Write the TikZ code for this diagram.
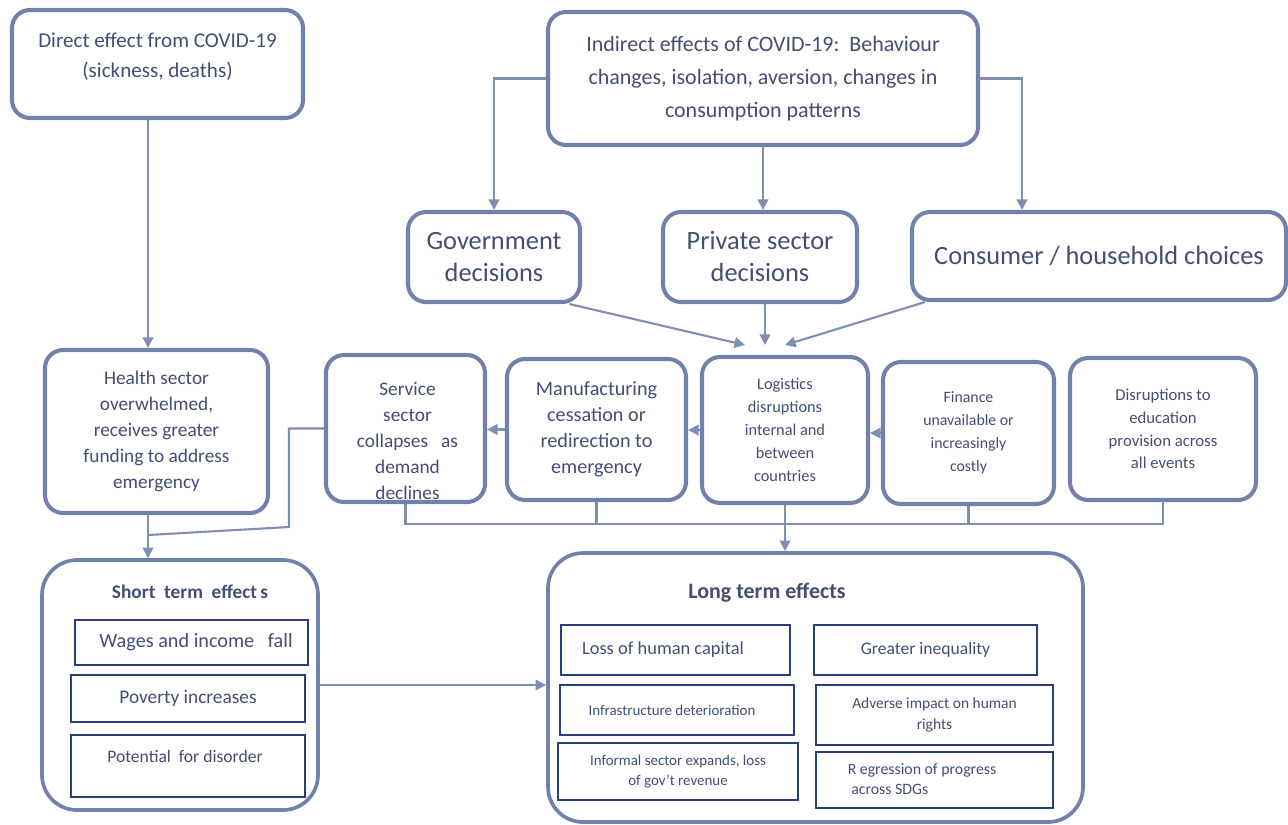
\documentclass[tikz,border=0pt]{standalone}
\usepackage{fontspec}
\setmainfont{Carlito}
\usepackage{tikz}
\usetikzlibrary{positioning,arrows.meta}
\definecolor{boxline}{RGB}{112,130,172}
\definecolor{conline}{RGB}{128,142,178}
\definecolor{innline}{RGB}{44,60,124}
\definecolor{txt}{RGB}{66,78,116}

\begin{document}
\begin{tikzpicture}[
  box/.style={draw=boxline, line width=2.3pt, rounded corners=0.36cm, align=center, text=txt, inner sep=2pt},
  bigbox/.style={draw=boxline, line width=2.1pt, rounded corners=0.7cm},
  itembox/.style={draw=innline, line width=1.3pt, align=center, text=txt, inner sep=1pt},
  lbl/.style={text=txt, align=center, inner sep=0pt},
  conn/.style={draw=conline, line width=1.2pt},
  arr/.style={conn, -{Triangle[length=6pt,width=6pt]}}
]
\useasboundingbox (0,0) rectangle (25.76,-16.48);

% top row
\node[box, minimum width=5.82cm, minimum height=2.16cm] (direct) at (3.15,-1.28) {};
\node[lbl, font=\fontsize{12}{17}\selectfont] (directtxt) at (3.15,-1.14) {Direct effect from COVID-19\\(sickness, deaths)};
\node[box, minimum width=8.6cm, minimum height=2.66cm, font=\fontsize{12.5}{18.8}\selectfont] (indirect) at (15.26,-1.57)
  {Indirect effects of COVID-19:\ \ Behaviour\\changes, isolation, aversion, changes in\\consumption patterns};

% decisions
\node[box, minimum width=3.44cm, minimum height=1.8cm, font=\fontsize{15}{18.2}\selectfont] (gov) at (9.88,-5.14) {Government\\decisions};
\node[box, minimum width=3.88cm, minimum height=1.8cm, font=\fontsize{15}{18.2}\selectfont] (priv) at (15.20,-5.14) {Private sector\\decisions};
\node[box, minimum width=7.48cm, minimum height=1.76cm, font=\fontsize{15}{18.2}\selectfont] (cons) at (21.98,-5.12) {Consumer / household choices};

% sectors
\node[box, minimum width=4.46cm, minimum height=3.26cm, font=\fontsize{11}{14.8}\selectfont] (health) at (3.13,-8.63)
  {Health sector\\overwhelmed,\\receives greater\\funding to address\\emergency};
\node[box, minimum width=3.18cm, minimum height=2.94cm] (service) at (8.11,-8.57) {};
\node[lbl, font=\fontsize{11}{14.8}\selectfont] (servicetxt) at (8.15,-8.82) {Service\\sector\\collapses\ \ \ as\\demand\\declines};
\node[box, minimum width=3.58cm, minimum height=2.82cm, font=\fontsize{11.5}{14.8}\selectfont] (manuf) at (11.93,-8.59)
  {Manufacturing\\cessation or\\redirection to\\emergency};
\node[box, minimum width=3.32cm, minimum height=2.92cm, font=\fontsize{9.3}{13}\selectfont] (logist) at (15.70,-8.60)
  {Logistics\\disruptions\\internal and\\between\\countries};
\node[box, minimum width=3.42cm, minimum height=2.84cm, font=\fontsize{9}{13}\selectfont] (finance) at (19.37,-8.66)
  {Finance\\unavailable or\\increasingly\\costly};
\node[box, minimum width=3.72cm, minimum height=2.84cm, font=\fontsize{9.5}{13}\selectfont] (educ) at (23.26,-8.58)
  {Disruptions to\\education\\provision across\\all events};

% short term
\node[bigbox, minimum width=5.52cm, minimum height=5.0cm] (short) at (3.60,-13.70) {};
\node[lbl, font=\fontsize{11}{13}\selectfont\bfseries] (shorttitle) at (3.80,-11.84) {Short\ \ term\ \ effect\,s};
\node[itembox, minimum width=4.66cm, minimum height=0.9cm, font=\fontsize{11.5}{14}\selectfont] (wages) at (3.83,-12.85) {\ \ Wages and income\ \ \ fall};
\node[itembox, minimum width=4.68cm, minimum height=0.94cm, font=\fontsize{11}{14}\selectfont] (poverty) at (3.76,-13.97) {Poverty increases};
\node[itembox, minimum width=4.68cm, minimum height=1.24cm] (potential) at (3.76,-15.32) {};
\node[lbl, font=\fontsize{10}{12}\selectfont] (potentialtxt) at (3.70,-15.12) {Potential\ \ for disorder};

% long term
\node[bigbox, minimum width=10.7cm, minimum height=5.38cm] (long) at (16.31,-13.75) {};
\node[lbl, font=\fontsize{12.5}{15}\selectfont\bfseries] (longtitle) at (15.34,-11.86) {Long term effects};
\node[itembox, minimum width=4.58cm, minimum height=1.0cm, font=\fontsize{10.5}{13}\selectfont] (loss) at (13.51,-13.00) {Loss\ of human capital\hspace*{0.5cm}};
\node[itembox, minimum width=4.46cm, minimum height=1.0cm, font=\fontsize{10}{13}\selectfont] (greater) at (18.51,-13.00) {Greater\ inequality};
\node[itembox, minimum width=4.68cm, minimum height=1.0cm, font=\fontsize{8.5}{11}\selectfont] (infra) at (13.54,-14.20) {Infrastructure\ deterioration\hspace*{0.2cm}};
\node[itembox, minimum width=4.74cm, minimum height=1.2cm, font=\fontsize{8.8}{11.9}\selectfont] (adverse) at (18.69,-14.30) {Adverse impact on human\\rights};
\node[itembox, minimum width=4.8cm, minimum height=1.14cm, font=\fontsize{8.5}{11.4}\selectfont] (informal) at (13.56,-15.43) {Informal\ sector expands, loss\\of gov't revenue};
\node[itembox, minimum width=4.74cm, minimum height=1.12cm, font=\fontsize{9}{11.4}\selectfont] (regression) at (18.69,-15.60) {\begin{tabular}{@{}l@{}}R egression of progress\\\ across SDGs\end{tabular}\hspace*{0.5cm}};

% connectors
\coordinate (hx) at (2.96,0);
\coordinate (join) at (2.96,-10.70);
\coordinate (bus) at (0,-10.48);
\coordinate (tipL) at (14.90,-6.90);
\coordinate (tipM) at (15.30,-6.90);
\coordinate (tipR) at (15.70,-6.90);

\draw[arr] (direct.south -| hx) -- (health.north -| hx);
\draw[arr] (indirect.west) -| (gov.north);
\draw[arr] (indirect.south) -- (indirect.south |- priv.north);
\draw[arr] (indirect.east) -| ([xshift=-1.54cm]cons.north);

\draw[arr] ([xshift=-0.25cm]gov.south east) -- (tipL);
\draw[arr] (priv.south -| tipM) -- (tipM);
\draw[arr] ([xshift=0.3cm]cons.south west) -- (tipR);

\draw[arr] (finance.west) -- (finance.west -| logist.east);
\draw[arr] (logist.west) -- (logist.west -| manuf.east);
\draw[arr] (manuf.west) -- (manuf.west -| service.east);

\draw[conn] (service.west) -- ++(-0.7,0) -- ++(0,-1.97) -- (join);
\draw[arr] (health.south -| hx) -- (short.north -| hx);

\draw[conn] (service.south) -- (service.south |- bus) -- (educ.south |- bus) -- (educ.south);
\foreach \n in {manuf,logist,finance}
  \draw[conn] (\n.south) -- (\n.south |- bus);
\draw[arr] (logist.south |- bus) -- (logist.south |- long.north);

\draw[arr] (short.east) -- (short.east -| long.west);
\end{tikzpicture}
\end{document}
